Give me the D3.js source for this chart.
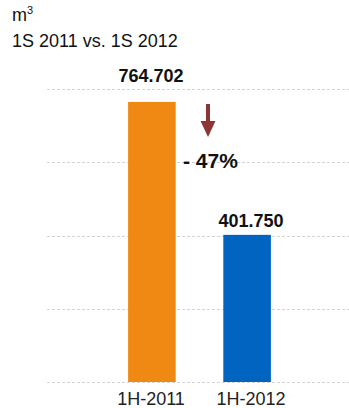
<!DOCTYPE html>
<html>
<head>
<meta charset="utf-8">
<script src="https://cdn.jsdelivr.net/npm/d3@7"></script>
<style>
  html, body { margin: 0; padding: 0; background: #fff; }
  svg { display: block; font-family: "Liberation Sans", Arial, sans-serif; }
</style>
</head>
<body>
<svg id="chart" width="349" height="408"></svg>
<script>
// Volume (m³), first half 2011 vs first half 2012
const categories = ["1H-2011", "1H-2012"];
const values = [764.702, 401.750];
const valueLabels = ["764.702", "401.750"];
const barColors = ["#F08814", "#0064C0"];
const gridTicks = [0, 200, 400, 600, 800];
const changeLabel = "- 47%";

const svg = d3.select("#chart");
const W = 349, H = 408;

// bar positions
const x = d3.scaleBand()
  .domain(categories)
  .range([80.5, 318.5])
  .paddingInner(0.5)
  .paddingOuter(0.5);

// text anchors for the labels, spread slightly wider than the bars
const xLabel = d3.scalePoint()
  .domain(categories)
  .range([151, 251]);

const y = d3.scaleLinear()
  .domain([0, 800])
  .range([382, 89]);

// unit header
const head = svg.append("text")
  .attr("x", 12).attr("y", 21)
  .attr("font-size", 18).attr("fill", "#111");
head.append("tspan").text("m");
head.append("tspan").attr("font-size", 11).attr("dy", -7).text("3");

svg.append("text")
  .attr("x", 12).attr("y", 47)
  .attr("font-size", 18).attr("fill", "#111")
  .text("1S 2011 vs. 1S 2012");

// dashed horizontal gridlines
svg.append("g")
  .selectAll("line")
  .data(gridTicks)
  .join("line")
  .attr("x1", 47).attr("x2", W)
  .attr("y1", d => Math.round(y(d)) + 0.5)
  .attr("y2", d => Math.round(y(d)) + 0.5)
  .attr("stroke", "#d4d4d4")
  .attr("stroke-width", 1)
  .attr("stroke-dasharray", "3,2");

// bars
svg.append("g")
  .selectAll("rect")
  .data(values)
  .join("rect")
  .attr("x", (d, i) => x(categories[i]))
  .attr("width", x.bandwidth())
  .attr("y", d => y(d))
  .attr("height", d => y(0) - y(d))
  .attr("fill", (d, i) => barColors[i]);

// value labels above bars; a bar reaching close to the top gridline
// gets its label lifted above that line
const topGrid = y(gridTicks[gridTicks.length - 1]);
svg.append("g")
  .selectAll("text")
  .data(values)
  .join("text")
  .attr("x", (d, i) => xLabel(categories[i]))
  .attr("y", d => (y(d) - topGrid < 25 ? topGrid - 7 : y(d) - 8))
  .attr("text-anchor", "middle")
  .attr("font-size", 18)
  .attr("font-weight", "bold")
  .attr("fill", "#111")
  .text((d, i) => valueLabels[i]);

// category labels
svg.append("g")
  .selectAll("text")
  .data(categories)
  .join("text")
  .attr("x", d => xLabel(d))
  .attr("y", 404.5)
  .attr("text-anchor", "middle")
  .attr("font-size", 18)
  .attr("fill", "#222")
  .text(d => d);

// downward arrow marking the decrease
const ax = 208;
svg.append("rect")
  .attr("x", ax - 2).attr("y", 104)
  .attr("width", 4).attr("height", 18)
  .attr("fill", "#8E3636");
svg.append("path")
  .attr("d", `M${ax - 7.5},121 L${ax + 7.5},121 L${ax},137 Z`)
  .attr("fill", "#8E3636");

svg.append("text")
  .attr("x", 183).attr("y", 167.5)
  .attr("font-size", 21)
  .attr("font-weight", "bold")
  .attr("fill", "#111")
  .text(changeLabel);
</script>
</body>
</html>
